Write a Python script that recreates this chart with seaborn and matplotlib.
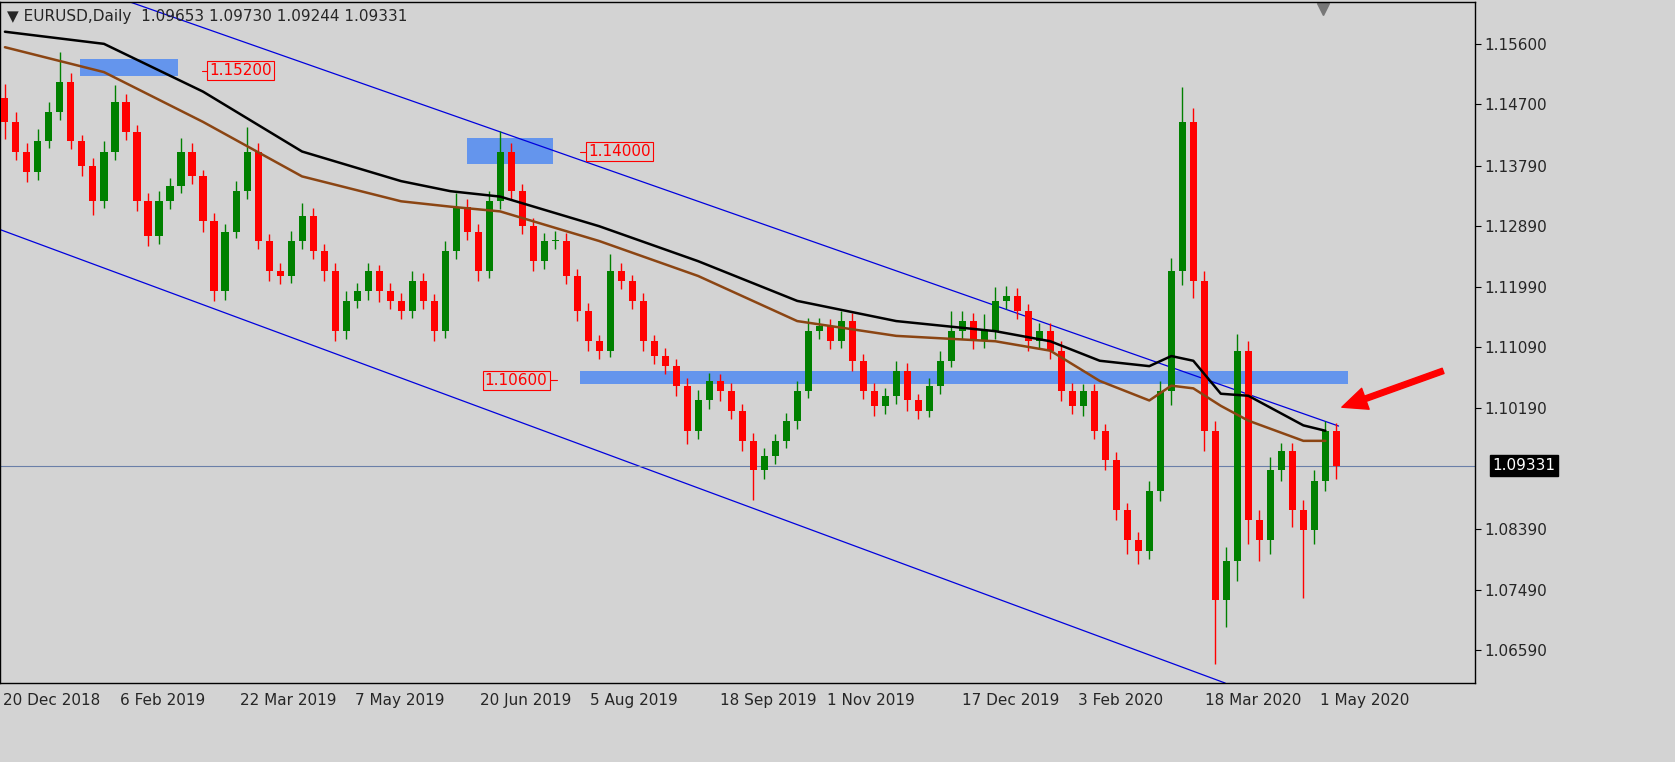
import numpy as np
import pandas as pd
import seaborn as sns
import matplotlib.pyplot as plt
from matplotlib.patches import Rectangle

# closes of 3-day candles (EURUSD), opens follow the previous close
closes = [1.1444, 1.1400, 1.1370, 1.1415, 1.1459, 1.1504, 1.1415, 1.1378, 1.1326, 1.1400,
          1.1474, 1.1429, 1.1326, 1.1274, 1.1326, 1.1348, 1.1400, 1.1363, 1.1296, 1.1192,
          1.1281, 1.1341, 1.1400, 1.1267, 1.1222, 1.1215, 1.1267, 1.1304, 1.1252, 1.1222,
          1.1133, 1.1178, 1.1192, 1.1222, 1.1192, 1.1178, 1.1163, 1.1207, 1.1178, 1.1133,
          1.1252, 1.1318, 1.1281, 1.1222, 1.1326, 1.1400, 1.1341, 1.1289, 1.1237, 1.1267,
          1.1267, 1.1215, 1.1163, 1.1118, 1.1104, 1.1222, 1.1207, 1.1178, 1.1118, 1.1096,
          1.1081, 1.1052, 1.0985, 1.1030, 1.1059, 1.1044, 1.1015, 1.0970, 1.0926, 1.0948,
          1.0970, 1.1000, 1.1044, 1.1133, 1.1141, 1.1118, 1.1148, 1.1089, 1.1044, 1.1022,
          1.1037, 1.1074, 1.1030, 1.1015, 1.1052, 1.1089, 1.1133, 1.1148, 1.1118, 1.1133,
          1.1178, 1.1185, 1.1163, 1.1118, 1.1133, 1.1104, 1.1044, 1.1022, 1.1044, 1.0985,
          1.0941, 1.0867, 1.0822, 1.0807, 1.0896, 1.1044, 1.1222, 1.1444, 1.1207, 1.0985,
          1.0733, 1.0792, 1.1104, 1.0852, 1.0822, 1.0926, 1.0955, 1.0867, 1.0837, 1.0911,
          1.0985, 1.0933]
first_open = 1.1480
# wick extensions in pips beyond the body
up_wick = [20, 15, 12, 18, 15, 44, 12, 10, 12, 15, 25, 12, 10, 12, 15, 12, 20, 12, 10, 12,
           12, 15, 37, 12, 10, 12, 15, 20, 12, 10, 12, 15, 12, 12, 10, 12, 12, 15, 12, 10,
           15, 20, 12, 12, 15, 30, 12, 10, 12, 12, 15, 12, 10, 12, 10, 25, 12, 10, 12, 10,
           12, 10, 12, 15, 12, 10, 12, 10, 12, 12, 10, 12, 15, 20, 12, 10, 15, 12, 10, 12,
           12, 15, 12, 10, 12, 15, 30, 15, 12, 25, 20, 15, 12, 10, 12, 12, 15, 12, 10, 10,
           10, 12, 10, 12, 15, 15, 20, 52, 20, 15, 15, 20, 25, 15, 15, 20, 12, 12, 15, 15,
           15, 12]
lo_wick = [25, 12, 15, 12, 10, 12, 12, 15, 20, 10, 12, 12, 15, 15, 12, 12, 10, 12, 15, 14,
           12, 10, 12, 12, 15, 12, 10, 12, 12, 15, 15, 12, 10, 12, 15, 12, 12, 10, 12, 15,
           10, 12, 12, 15, 10, 12, 12, 12, 15, 12, 12, 12, 15, 15, 12, 10, 12, 12, 15, 12,
           12, 15, 20, 12, 12, 15, 12, 15, 44, 12, 12, 10, 12, 10, 12, 12, 10, 15, 12, 15,
           12, 12, 15, 12, 10, 12, 10, 12, 12, 10, 12, 12, 12, 15, 12, 12, 15, 12, 15, 12,
           15, 15, 20, 20, 12, 15, 20, 20, 25, 30, 95, 40, 30, 35, 30, 20, 15, 25, 100, 20,
           15, 20]

black_ma_x = [0, 9, 18, 27, 36, 40.5, 45, 54, 63, 72, 81, 90, 95, 99.5, 104, 106, 108, 110.5, 113, 118, 120]
black_ma = [1.1578, 1.1560, 1.1489, 1.1400, 1.1356, 1.1341, 1.1333, 1.1289, 1.1237, 1.1178, 1.1148,
            1.1133, 1.1118, 1.1089, 1.1081, 1.1096, 1.1089, 1.1040, 1.1037, 1.0993, 1.0985]
brown_ma = [1.1555, 1.1518, 1.1444, 1.1363, 1.1326, 1.1318, 1.1311, 1.1267, 1.1215, 1.1148, 1.1126,
            1.1118, 1.1104, 1.1059, 1.1030, 1.1052, 1.1048, 1.1022, 1.1000, 1.0970, 1.0970]

date_ticks = [-0.2, 10.5, 21.4, 31.8, 43.2, 53.2, 65, 74.7, 87, 97.5, 109.1, 119.5]
date_labels = ['20 Dec 2018', '6 Feb 2019', '22 Mar 2019', '7 May 2019', '20 Jun 2019', '5 Aug 2019',
               '18 Sep 2019', '1 Nov 2019', '17 Dec 2019', '3 Feb 2020', '18 Mar 2020', '1 May 2020']
price_ticks = [1.15600, 1.14700, 1.13790, 1.12890, 1.11990, 1.11090, 1.10190, 1.08390, 1.07490, 1.06590]
last_price = 1.09331

sns.set_style('white')
plt.rcParams['font.family'] = ['DejaVu Sans']
BG = '#d3d3d3'
fig = plt.figure(figsize=(16.75, 7.62), dpi=100, facecolor=BG)
ax = fig.add_axes([0.0, 1 - 683 / 762, 1475 / 1675, 681 / 762])
ax.set_facecolor(BG)
ymin, ymax = 1.06101, 1.16222
ax.set_ylim(ymin, ymax)
ax.set_xlim(-0.45, 133.6)

# channel lines
ax.plot([11.4, 121.2], [1.1622, 1.0992], color='#0000dd', lw=0.9)
ax.plot([-0.45, 110.9], [1.1284, 1.0610], color='#0000dd', lw=0.9)

# support/resistance zones
for x0, x1, y0, y1 in [(6.8, 15.7, 1.15126, 1.15378), (42, 49.8, 1.13821, 1.14207), (52.3, 122.1, 1.10546, 1.10739)]:
    ax.add_patch(Rectangle((x0, y0), x1 - x0, y1 - y0, color='#6495ed', zorder=1, lw=0))

# candles
df = pd.DataFrame({'close': closes})
df['open'] = [first_open] + closes[:-1]
df['high'] = df[['open', 'close']].max(axis=1) + np.array(up_wick) / 10000
df['low'] = df[['open', 'close']].min(axis=1) - np.array(lo_wick) / 10000
for i, r in df.iterrows():
    col = '#008000' if r.close >= r.open else '#ff0000'
    ax.vlines(i, r.low, r.high, color=col, lw=1, zorder=3)
    ax.add_patch(Rectangle((i - 0.32, min(r.open, r.close)), 0.64, max(abs(r.close - r.open), 0.00008),
                           color=col, lw=0, zorder=3))

# moving averages
sns.lineplot(x=black_ma_x, y=brown_ma, color='#8b4513', lw=1.8, ax=ax, zorder=4)
sns.lineplot(x=black_ma_x, y=black_ma, color='black', lw=1.8, ax=ax, zorder=4)

# current price line
ax.axhline(last_price, color='#6a7fa8', lw=0.8, zorder=2)

# level labels
def level_label(x, y, text, ha='left'):
    ax.text(x, y, text, color='red', fontsize=11, ha=ha, va='center', zorder=5,
            bbox=dict(facecolor=BG, edgecolor='red', pad=1.5, lw=0.8))
level_label(18.6, 1.1520, '1.15200')
ax.plot([17.9, 18.5], [1.1520, 1.1520], color='red', lw=0.8)
level_label(53.0, 1.1400, '1.14000')
ax.plot([52.3, 52.9], [1.1400, 1.1400], color='red', lw=0.8)
level_label(49.3, 1.1060, '1.10600', ha='right')
ax.plot([49.5, 50.2], [1.1060, 1.1060], color='red', lw=0.8)

# arrow
ax.annotate('', xy=(121.5, 1.1020), xytext=(130.7, 1.1074),
            arrowprops=dict(facecolor='red', edgecolor='red', width=4, headwidth=16, headlength=18))

ax.set_xticks(date_ticks)
ax.set_xticklabels(date_labels, fontsize=11, ha='left')
ax.yaxis.tick_right()
ax.set_yticks(price_ticks)
ax.set_yticklabels([f'{p:.5f}' for p in price_ticks], fontsize=11)
ax.tick_params(axis='both', length=4, color='black', direction='out', pad=3)
ax.text(1.012, (last_price - ymin) / (ymax - ymin), f'{last_price:.5f}', transform=ax.transAxes,
        color='white', fontsize=11, va='center', bbox=dict(facecolor='black', edgecolor='black', pad=2))
for s in ax.spines.values():
    s.set_color('black')
    s.set_linewidth(1)

fig.text(0.004, 0.978, '\u25bc EURUSD,Daily  1.09653 1.09730 1.09244 1.09331', fontsize=11, va='center',
         family=['DejaVu Sans'])
ax.plot([119.8], [1.1612], marker='v', color='#777777', ms=9, clip_on=False)

plt.savefig('out.png', dpi=100, facecolor=BG)
